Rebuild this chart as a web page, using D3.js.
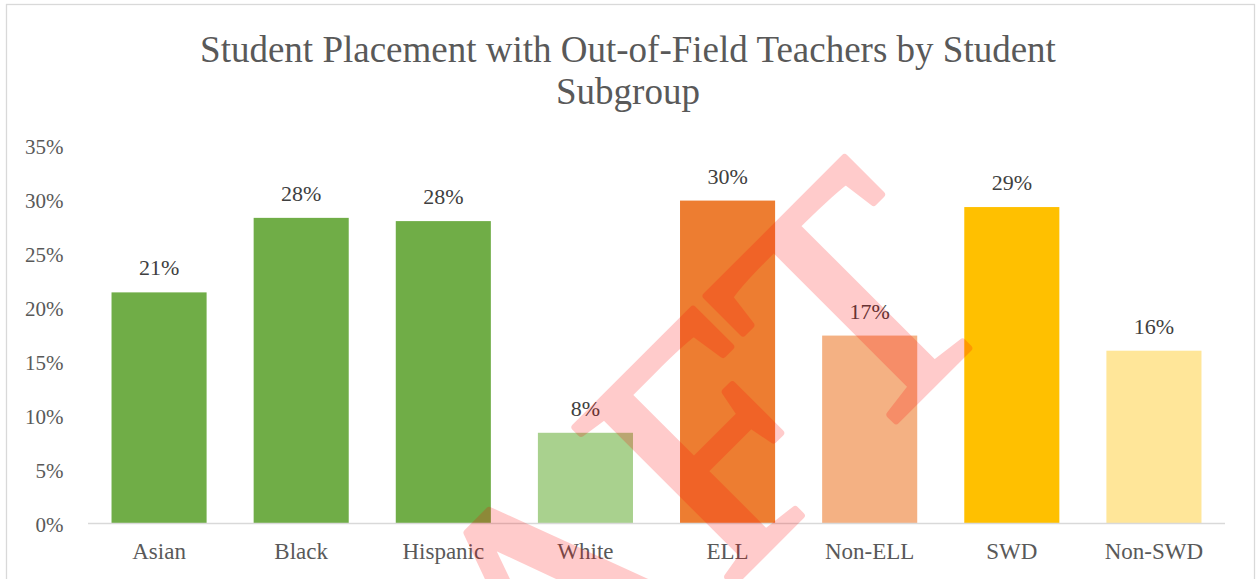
<!DOCTYPE html>
<html>
<head>
<meta charset="utf-8">
<script src="https://cdn.jsdelivr.net/npm/d3@7"></script>
<style>
  html, body { margin: 0; padding: 0; background: #fff; }
  svg { display: block; }
  text { font-family: "Liberation Serif", "Tinos", "Times New Roman", Times, "DejaVu Serif", serif; }
</style>
</head>
<body>
<svg id="chart" width="1257" height="579"></svg>
<script>
// ---- data ----
const categories = ["Asian", "Black", "Hispanic", "White", "ELL", "Non-ELL", "SWD", "Non-SWD"];
const values = [0.214, 0.283, 0.280, 0.084, 0.299, 0.174, 0.293, 0.160];
const barColors = ["#70AD47", "#70AD47", "#70AD47", "#A9D18E", "#ED7D31", "#F4B183", "#FFC000", "#FFE699"];
const yTicks = [0, 0.05, 0.10, 0.15, 0.20, 0.25, 0.30, 0.35];
const titleLines = ["Student Placement with Out-of-Field Teachers by Student", "Subgroup"];
const watermark = "DRAFT";

const FONT = '"Liberation Serif", "Tinos", "Times New Roman", Times, "DejaVu Serif", serif';
const svg = d3.select("#chart");

// frame
svg.append("rect")
  .attr("x", 6.5).attr("y", 4.5)
  .attr("width", 1248).attr("height", 620)
  .attr("fill", "#fff").attr("stroke", "#d9d9d9").attr("stroke-width", 1.3);

// scales
const x = d3.scaleBand().domain(categories).range([88, 1225]).paddingInner(0.331).paddingOuter(0.1655);
const y = d3.scaleLinear().domain([0, 0.35]).range([523.5, 145.5]);

// title
svg.append("g").selectAll("text").data(titleLines).join("text")
  .attr("x", 628)
  .attr("y", (d, i) => 62 + i * 42)
  .attr("text-anchor", "middle")
  .attr("font-family", FONT)
  .attr("font-size", 37)
  .attr("fill", "#595959")
  .text(d => d);

// y axis labels
const yAxis = d3.axisLeft(y).tickValues(yTicks).tickFormat(d3.format(".0%")).tickSize(0).tickPadding(0);
const gy = svg.append("g").attr("transform", "translate(63.5,0)").call(yAxis);
gy.attr("font-family", FONT);
gy.select(".domain").remove();
gy.selectAll("text")
  .attr("font-family", FONT)
  .attr("font-size", 21).attr("fill", "#595959").attr("dy", "0.36em");

// bars
svg.append("g").selectAll("rect").data(categories).join("rect")
  .attr("x", d => x(d))
  .attr("y", (d, i) => y(values[i]))
  .attr("width", x.bandwidth())
  .attr("height", (d, i) => y(0) - y(values[i]))
  .attr("fill", (d, i) => barColors[i]);

// baseline
svg.append("line")
  .attr("x1", 88).attr("x2", 1225)
  .attr("y1", y(0)).attr("y2", y(0))
  .attr("stroke", "#d9d9d9").attr("stroke-width", 1.5);

// x axis labels
const xAxis = d3.axisBottom(x).tickSize(0).tickPadding(19.5);
const gx = svg.append("g").attr("transform", `translate(0,${y(0)})`).call(xAxis);
gx.attr("font-family", FONT);
gx.select(".domain").remove();
gx.selectAll("text")
  .attr("font-family", FONT)
  .attr("font-size", 23).attr("fill", "#595959");

// data labels
svg.append("g").selectAll("text").data(categories).join("text")
  .attr("x", d => x(d) + x.bandwidth() / 2)
  .attr("y", (d, i) => y(values[i]) - 17)
  .attr("text-anchor", "middle")
  .attr("font-family", FONT)
  .attr("font-size", 22)
  .attr("fill", "#404040")
  .text((d, i) => d3.format(".0%")(values[i]));

// watermark
svg.append("g").attr("opacity", 0.2)
  .append("text")
  .attr("transform", "translate(1006,311) rotate(-45)")
  .attr("text-anchor", "end")
  .attr("font-family", FONT)
  .attr("font-size", 340)
  .attr("fill", "#ff0000")
  .attr("stroke", "#ff0000")
  .attr("stroke-width", 7)
  .attr("stroke-linejoin", "round")
  .text(watermark);
</script>
</body>
</html>
